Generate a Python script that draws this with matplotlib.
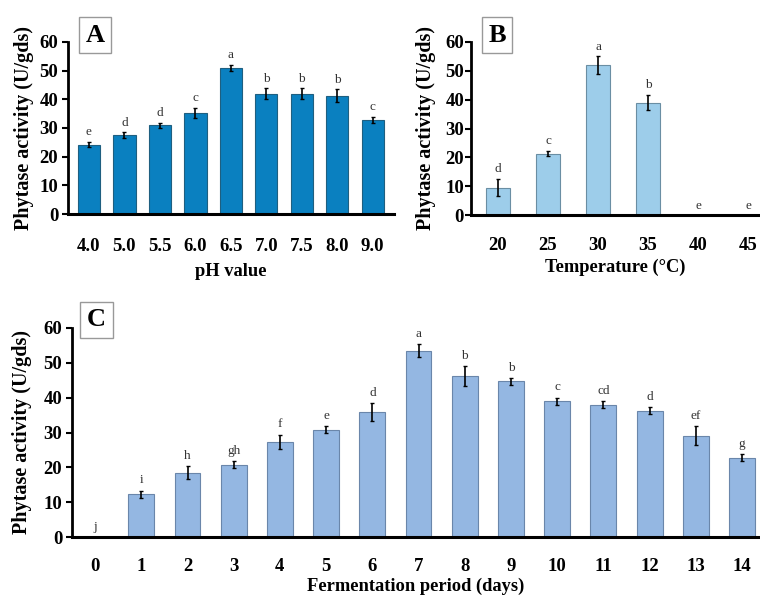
import matplotlib
matplotlib.use("Agg")
import matplotlib.pyplot as plt
import numpy as np

# Panel A data
ph_labels = ["4.0", "5.0", "5.5", "6.0", "6.5", "7.0", "7.5", "8.0", "9.0"]
ph_values = [24.2, 27.5, 30.9, 35.3, 51.0, 42.0, 42.0, 41.3, 32.8]
ph_errors = [1.0, 1.0, 1.0, 1.8, 1.0, 1.8, 1.8, 2.2, 1.2]
ph_letters = ["e", "d", "d", "c", "a", "b", "b", "b", "c"]

# Panel B data
temp_labels = ["20", "25", "30", "35", "40", "45"]
temp_values = [9.5, 21.3, 52.0, 39.0, 0.0, 0.0]
temp_errors = [3.0, 1.0, 3.0, 2.7, 0.0, 0.0]
temp_letters = ["d", "c", "a", "b", "e", "e"]

# Panel C data
day_labels = [str(i) for i in range(15)]
day_values = [0.0, 12.3, 18.5, 20.8, 27.4, 30.8, 35.8, 53.5, 46.2, 44.7, 39.0, 37.9, 36.3, 29.1, 22.8]
day_errors = [0.0, 1.0, 1.8, 1.0, 2.0, 1.0, 2.6, 1.8, 2.8, 1.0, 1.0, 1.0, 1.0, 2.7, 1.0]
day_letters = ["j", "i", "h", "gh", "f", "e", "d", "a", "b", "b", "c", "cd", "d", "ef", "g"]

plt.rcParams['font.family'] = ['Liberation Serif', 'DejaVu Serif']

fig = plt.figure(figsize=(7.6, 5.95), dpi=100)

W, H = 760.0, 595.0

def make_ax(l, r, top, bot):
    return fig.add_axes([l / W, 1 - bot / H, (r - l) / W, (bot - top) / H])


def draw_panel(ax, labels, values, errors, letters, color, edge, width,
               xlim, xlabel, panel, box_xy, xlab_pad, lab_pad, xl_pad, ypad=3):
    x = np.arange(len(values))
    ax.bar(x, values, width=width, color=color, edgecolor=edge, linewidth=0.8, zorder=2)
    for xi, v, e, let in zip(x, values, errors, letters):
        if e > 0:
            ax.errorbar(xi, v, yerr=e, fmt='none', ecolor='black', elinewidth=1.2,
                        capsize=1.5, capthick=1.0, zorder=3)
        ax.text(xi, v + e + 1.2, let, ha='center', va='bottom', fontsize=9.5,
                color='#333333')
    ax.set_ylim(0, 60)
    ax.set_xlim(*xlim)
    ax.set_yticks([0, 10, 20, 30, 40, 50, 60])
    ax.set_xticks(x)
    ax.set_xticklabels(labels)
    for s in ['top', 'right']:
        ax.spines[s].set_visible(False)
    ax.spines['left'].set_linewidth(2)
    ax.spines['bottom'].set_linewidth(2.2)
    ax.tick_params(axis='y', direction='out', length=4, width=1.5, labelsize=13.5, pad=ypad)
    ax.tick_params(axis='x', length=0, labelsize=13.5, pad=xlab_pad)
    for t in ax.get_xticklabels() + ax.get_yticklabels():
        t.set_fontweight('bold')
    ax.set_ylabel("Phytase activity (U/gds)", fontsize=14.5, fontweight='bold', labelpad=lab_pad)
    ax.set_xlabel(xlabel, fontsize=13.3, fontweight='bold', labelpad=xl_pad)
    bx0, by0, bx1, by1 = box_xy
    fig.text((bx0 + bx1) / 2 / W, 1 - (by0 + by1) / 2 / H, panel, ha='center', va='center',
             fontsize=19, fontweight='bold',
             bbox=dict(boxstyle='square,pad=0.25', facecolor='white', edgecolor='#999999',
                       linewidth=1.0))


axA = make_ax(68, 394, 42, 214)
draw_panel(axA, ph_labels, ph_values, ph_errors, ph_letters, '#0A80C0', '#1f5f80', 0.63,
           (-0.59, 8.6), "pH value", "A", (80, 16, 110, 54), 17, 4, 6)

axB = make_ax(471, 760, 42, 215)
draw_panel(axB, temp_labels, temp_values, temp_errors, temp_letters, '#9DCDEA', '#6a8ea3', 0.48,
           (-0.54, 5.24), "Temperature (°C)", "B", (481, 15, 513, 55), 16, 7, 3, ypad=1)

axC = make_ax(72, 760, 328, 537)
draw_panel(axC, day_labels, day_values, day_errors, day_letters, '#94B7E2', '#6a86aa', 0.56,
           (-0.5, 14.39), "Fermentation period (days)", "C", (80, 298, 113, 342), 15, 8, 2)

fig.savefig("out.png", dpi=100)
